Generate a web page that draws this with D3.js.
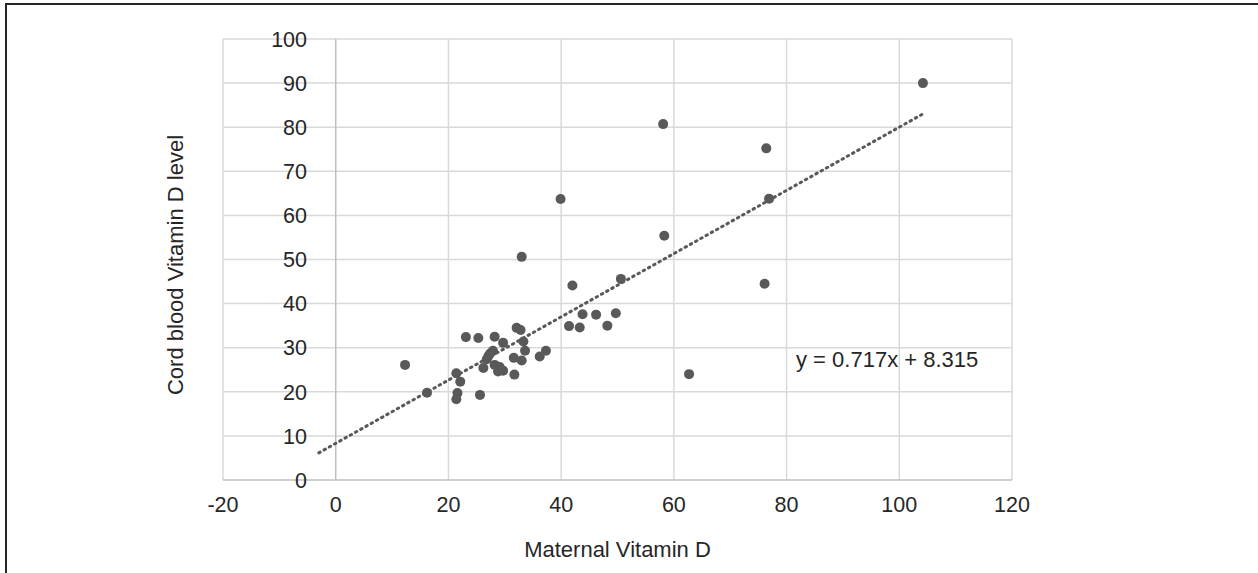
<!DOCTYPE html>
<html>
<head>
<meta charset="utf-8">
<script src="https://cdn.jsdelivr.net/npm/d3@7"></script>
<style>
	body { margin: 0; background: #fff; }
	text { font-family: 'Liberation Sans', Arial, sans-serif; fill: #262626; }
</style>
</head>
<body>
<div class="chart"></div>
<script>
// maternal vitamin D vs cord blood vitamin D
const maternal = [104.2, 76.4, 76.9, 76.1, 58.1, 58.3, 39.9, 62.7, 33.0, 42.0, 50.6, 43.8, 46.2, 49.7, 41.4, 43.3,
	48.2, 37.3, 36.2, 12.3, 16.2, 23.1, 25.3, 28.2, 32.1, 32.8, 29.7, 33.3, 33.6, 27.9, 27.1, 26.8, 31.6,
	33.0, 28.2, 29.1, 29.7, 28.8, 26.2, 31.7, 21.4, 22.1, 21.6, 21.4, 25.6, 27.4]
const cord = [90.0, 75.2, 63.8, 44.5, 80.7, 55.4, 63.7, 24.0, 50.6, 44.1, 45.6, 37.6, 37.5, 37.8, 34.9, 34.6,
	35.0, 29.3, 28.0, 26.1, 19.8, 32.4, 32.2, 32.5, 34.5, 34.0, 31.1, 31.4, 29.3, 29.3, 28.1, 27.4, 27.7,
	27.1, 26.1, 25.6, 24.8, 24.6, 25.4, 23.9, 24.2, 22.3, 19.7, 18.3, 19.3, 28.7]

const xTicks = [-20, 0, 20, 40, 60, 80, 100, 120]
const yTicks = [0, 10, 20, 30, 40, 50, 60, 70, 80, 90, 100]

// linear trend line shown on the chart
const slope = 0.717
const intercept = 8.315
const trendRange = [-3, 104]
const equation = 'y = 0.717x + 8.315'

const xTitle = 'Maternal Vitamin D'
const yTitle = 'Cord blood Vitamin D level'

const width = 1258
const height = 573
const plot = { left: 223, right: 1012, top: 39, bottom: 480 }

const svg = d3.select('.chart').append('svg')
	.attr('width', width)
	.attr('height', height)

const x = d3.scaleLinear().domain([-20, 120]).range([plot.left, plot.right])
const y = d3.scaleLinear().domain([0, 100]).range([plot.bottom, plot.top])

// frame (only left and top edges are in view)
svg.append('rect')
	.attr('x', 6)
	.attr('y', 4)
	.attr('width', 1400)
	.attr('height', 800)
	.attr('fill', 'none')
	.attr('stroke', '#262626')
	.attr('stroke-width', 2)

// gridlines
const grid = svg.append('g').attr('class', 'grid')

grid.selectAll('.gx')
	.data(xTicks.filter(d => d !== 0))
	.enter().append('line')
		.attr('x1', d => x(d))
		.attr('x2', d => x(d))
		.attr('y1', plot.top)
		.attr('y2', plot.bottom)
		.attr('stroke', '#d9d9d9')
		.attr('stroke-width', 1.5)

grid.selectAll('.gy')
	.data(yTicks.filter(d => d !== 0))
	.enter().append('line')
		.attr('x1', plot.left)
		.attr('x2', plot.right)
		.attr('y1', d => y(d))
		.attr('y2', d => y(d))
		.attr('stroke', '#d9d9d9')
		.attr('stroke-width', 1.5)

// axis lines cross at zero
grid.append('line')
	.attr('x1', x(0)).attr('x2', x(0))
	.attr('y1', plot.top).attr('y2', plot.bottom)
	.attr('stroke', '#bfbfbf')
	.attr('stroke-width', 1.5)

grid.append('line')
	.attr('x1', plot.left).attr('x2', plot.right)
	.attr('y1', y(0)).attr('y2', y(0))
	.attr('stroke', '#bfbfbf')
	.attr('stroke-width', 1.5)

// tick labels
svg.append('g')
	.selectAll('text')
	.data(xTicks)
	.enter().append('text')
		.attr('x', d => x(d))
		.attr('y', 512)
		.attr('text-anchor', 'middle')
		.style('font-size', '21.5px')
		.text(d => d)

svg.append('g')
	.selectAll('text')
	.data(yTicks)
	.enter().append('text')
		.attr('x', 307)
		.attr('y', d => y(d))
		.attr('dy', '0.36em')
		.attr('text-anchor', 'end')
		.style('font-size', '21.5px')
		.text(d => d)

// trend line
const line = d3.line()
	.x(d => x(d))
	.y(d => y(slope * d + intercept))

svg.append('path')
	.datum(trendRange)
	.attr('d', line)
	.attr('fill', 'none')
	.attr('stroke', '#595959')
	.attr('stroke-width', 3)
	.attr('stroke-linecap', 'round')
	.attr('stroke-dasharray', '1.5 4.5')

// points
svg.append('g')
	.selectAll('circle')
	.data(maternal.map((d, i) => ({ m: d, c: cord[i] })))
	.enter().append('circle')
		.attr('cx', d => x(d.m))
		.attr('cy', d => y(d.c))
		.attr('r', 5)
		.attr('fill', '#595959')

// equation label
svg.append('text')
	.attr('x', 796)
	.attr('y', 367)
	.style('font-size', '22px')
	.text(equation)

// axis titles
svg.append('text')
	.attr('x', (plot.left + plot.right) / 2)
	.attr('y', 557)
	.attr('text-anchor', 'middle')
	.style('font-size', '22px')
	.text(xTitle)

svg.append('text')
	.attr('transform', 'translate(183, 265) rotate(-90)')
	.attr('text-anchor', 'middle')
	.style('font-size', '22px')
	.text(yTitle)
</script>
</body>
</html>
